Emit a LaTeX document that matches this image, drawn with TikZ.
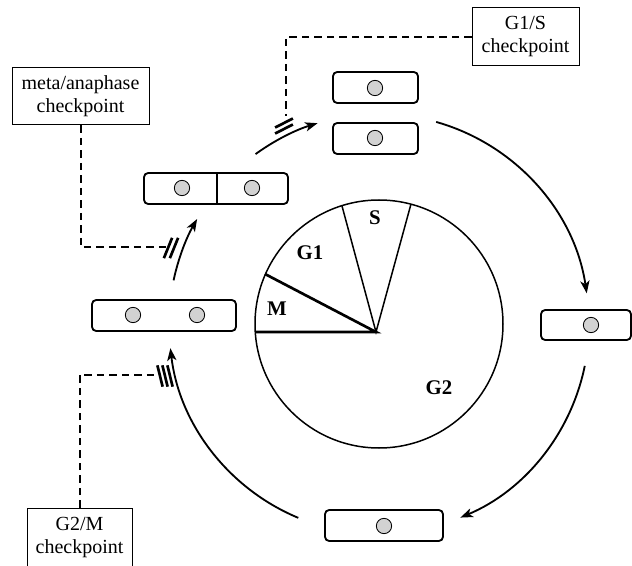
\documentclass[tikz,border=0pt]{standalone}
\usepackage{fontspec}
\setmainfont{Liberation Serif}
\usetikzlibrary{arrows.meta,calc}
\begin{document}
\begin{tikzpicture}[x=0.6pt,y=0.6pt,
 cell/.style={draw, line width=1.1pt, rounded corners=2.5pt, inner sep=0pt},
 dot/.style={circle, draw, line width=0.5pt, fill=gray!35, minimum size=9.2pt, inner sep=0pt},
 ckbox/.style={draw, line width=0.6pt, align=center, font=\fontsize{12}{13.8}\selectfont, inner sep=0pt},
 arr/.style={line width=1.1pt, -{Stealth[length=7.5pt,width=5.5pt,inset=2pt]}},
 pie/.style={line width=0.9pt},
 piethick/.style={line width=1.6pt},
 ckline/.style={dash pattern=on 4.5pt off 3pt, line width=1.2pt},
 hash/.style={line width=1.6pt},
 phase/.style={font=\fontsize{12.5}{14}\selectfont\bfseries, inner sep=0pt}]
\useasboundingbox (0,0) rectangle (632,565);

% pie chart
\coordinate (C) at (379,241);
\coordinate (V) at (376,233);
\draw[pie] (C) circle[radius=124];
\coordinate (pM) at (256,233);
\coordinate (pMG) at (265,291);
\coordinate (pGS) at (342,359);
\coordinate (pSG) at (411,361);
\draw[piethick] (pM) -- (V) -- (pMG);
\draw[pie] (pGS) -- (V) -- (pSG);
\node[phase] (lS) at (375,347) {S};
\node[phase] (lG1) at (310,312) {G1};
\node[phase] (lM) at (277,256) {M};
\node[phase] (lG2) at (439,177) {G2};

% cells
\node[cell, minimum width=51pt, minimum height=18.6pt] (topA) at (375.5,477.5) {};
\node[cell, minimum width=51pt, minimum height=18.6pt] (topB) at (375.5,426.5) {};
\node[cell, minimum width=54pt, minimum height=18pt] (rcell) at (586,240) {};
\node[cell, minimum width=70.8pt, minimum height=18.6pt] (bcell) at (384,39.5) {};
\node[cell, minimum width=86.4pt, minimum height=18.6pt] (lcell) at (164,249.5) {};
\node[cell, minimum width=86.4pt, minimum height=18.6pt] (ucell) at (216,376.5) {};
\draw[line width=1.1pt] ($(ucell.north)+(1,0)$) -- ($(ucell.south)+(1,0)$);

\node[dot] (dA) at (375,477) {};
\node[dot] (dB) at (375,427) {};
\node[dot] (dR) at (591,240) {};
\node[dot] (dBo) at (384,39) {};
\node[dot] (dL1) at (133,250) {};
\node[dot] (dL2) at (197,250) {};
\node[dot] (dU1) at (182,377) {};
\node[dot] (dU2) at (252,377) {};

% cycle arrows
\draw[arr] ($(C)+(126:210)$) arc[start angle=126, end angle=107, radius=210];
\draw[arr] ($(C)+(74.2:210)$) arc[start angle=74.2, end angle=8.4, radius=210];
\draw[arr] ($(C)+(-11.5:210)$) arc[start angle=-11.5, end angle=-67.2, radius=210];
\draw[arr] ($(C)+(247.4:210)$) arc[start angle=247.4, end angle=186.6, radius=210];
\draw[arr] ($(C)+(168:210)$) arc[start angle=168, end angle=150, radius=210];

% checkpoint boxes
\node[ckbox, minimum width=82.2pt, minimum height=34.2pt] (meta) at (80.5,468.5) {meta/anaphase\\checkpoint};
\node[ckbox, minimum width=64.2pt, minimum height=34.8pt] (g1s) at (525.5,528) {G1/S\\checkpoint};
\node[ckbox, minimum width=63pt, minimum height=36pt] (g2m) at (79.5,27) {G2/M\\checkpoint};

% dashed inhibition lines
\coordinate (mhash) at (168,318);
\coordinate (ghash) at (286,449);
\coordinate (g2hash) at (159,190);
\draw[ckline] (meta.south) |- (mhash);
\draw[ckline] (g1s.west) -| (ghash);
\draw[ckline] (g2m.north) |- (g2hash);

% hash marks
\foreach \dx in {0,6} \draw[hash] ($(168+\dx,317)+(68:-11)$) -- ++(68:22);
\foreach \dy in {0,6} \draw[hash] ($(284,442-\dy)+(27:-10)$) -- ++(27:20);
\foreach \dx in {0,5,10} \draw[hash] ($(160+\dx,189)+(104:-11)$) -- ++(104:22);
\end{tikzpicture}
\end{document}
